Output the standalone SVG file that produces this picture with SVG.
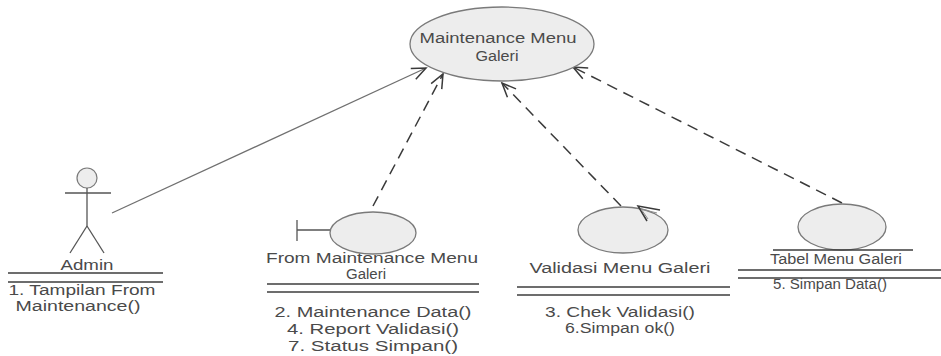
<svg xmlns="http://www.w3.org/2000/svg" width="941" height="356" viewBox="0 0 941 356">
<style>
.bg{fill:#ffffff}
.node ellipse{fill:#ededed;stroke:#7a7a7a;stroke-width:1.3}
.ln{stroke:#555555;stroke-width:1.3;fill:none}
.sep{stroke:#3c3c3c;stroke-width:1.4}
text{font-family:"Liberation Sans",Arial,sans-serif;font-size:14px;fill:#4a4a4a;text-anchor:middle}
.conn{stroke:#3a3a3a;stroke-width:1.5;fill:none}
.dash{stroke-dasharray:11 7}
.solid{stroke:#707070;stroke-width:1.3}
</style>
<defs>
<marker id="open" viewBox="-16 -8 18 16" markerWidth="18" markerHeight="16" refX="0" refY="0" orient="auto" markerUnits="userSpaceOnUse">
<path d="M-14,-6 L0,0 L-14,6" fill="none" stroke="#3a3a3a" stroke-width="1.5"/>
</marker>
</defs>
<rect class="bg" x="0" y="0" width="941" height="356"/>
<g id="connectors">
<line class="conn solid" x1="112" y1="213" x2="426" y2="68" marker-end="url(#open)"/>
<line class="conn dash" x1="373" y1="206" x2="443" y2="74" marker-end="url(#open)"/>
<line class="conn dash" x1="621" y1="206" x2="502" y2="83" marker-end="url(#open)"/>
<line class="conn dash" x1="842" y1="203" x2="573" y2="67" marker-end="url(#open)"/>
</g>
<g id="maintenance-menu-galeri" class="node">
<ellipse cx="502" cy="44" rx="92" ry="37"/>
<text x="498" y="43" textLength="157" lengthAdjust="spacingAndGlyphs">Maintenance Menu</text>
<text x="497" y="61" textLength="43" lengthAdjust="spacingAndGlyphs">Galeri</text>
</g>
<g id="admin" class="node">
<circle cx="87" cy="178" r="10" fill="#ededed" stroke="#7a7a7a" stroke-width="1.2"/>
<line class="ln" x1="87" y1="188" x2="87" y2="226"/>
<line class="ln" x1="65" y1="193" x2="111" y2="193"/>
<line class="ln" x1="87" y1="226" x2="70" y2="253"/>
<line class="ln" x1="87" y1="226" x2="104" y2="253"/>
<text x="87" y="270" textLength="53" lengthAdjust="spacingAndGlyphs">Admin</text>
<line class="sep" x1="8" y1="273" x2="163" y2="273"/>
<line class="sep" x1="8" y1="282" x2="163" y2="282"/>
<text x="82" y="295" textLength="147" lengthAdjust="spacingAndGlyphs">1. Tampilan From</text>
<text x="78" y="311" textLength="125" lengthAdjust="spacingAndGlyphs">Maintenance()</text>
</g>
<g id="from-maintenance-menu-galeri" class="node">
<line class="ln" x1="297" y1="220" x2="297" y2="241"/>
<line class="ln" x1="297" y1="230" x2="330" y2="230"/>
<ellipse cx="373" cy="233" rx="43" ry="21"/>
<text x="372" y="263" textLength="212" lengthAdjust="spacingAndGlyphs">From Maintenance Menu</text>
<text x="366" y="279" textLength="40" lengthAdjust="spacingAndGlyphs">Galeri</text>
<line class="sep" x1="267" y1="284" x2="479" y2="284"/>
<line class="sep" x1="267" y1="292" x2="479" y2="292"/>
<text x="373" y="317" textLength="197" lengthAdjust="spacingAndGlyphs">2. Maintenance Data()</text>
<text x="373" y="334" textLength="172" lengthAdjust="spacingAndGlyphs">4. Report Validasi()</text>
<text x="373" y="351" textLength="170" lengthAdjust="spacingAndGlyphs">7. Status Simpan()</text>
</g>
<g id="validasi-menu-galeri" class="node">
<ellipse cx="623" cy="230" rx="45" ry="23"/>
<polyline class="conn" points="660,210 638,206 647,221"/>
<polyline class="conn" points="657,213 641,209 648,219" style="stroke:#8a8a8a;stroke-width:1"/>
<text x="620" y="273" textLength="181" lengthAdjust="spacingAndGlyphs">Validasi Menu Galeri</text>
<line class="sep" x1="517" y1="287" x2="730" y2="287"/>
<line class="sep" x1="517" y1="295" x2="730" y2="295"/>
<text x="620" y="317" textLength="150" lengthAdjust="spacingAndGlyphs">3. Chek Validasi()</text>
<text x="620" y="333" textLength="110" lengthAdjust="spacingAndGlyphs">6.Simpan ok()</text>
</g>
<g id="tabel-menu-galeri" class="node">
<ellipse cx="842" cy="227" rx="44" ry="23"/>
<line class="sep" x1="773" y1="250" x2="913" y2="250"/>
<text x="836" y="264" textLength="132" lengthAdjust="spacingAndGlyphs">Tabel Menu Galeri</text>
<line class="sep" x1="738" y1="270" x2="941" y2="270"/>
<line class="sep" x1="738" y1="278" x2="941" y2="278"/>
<text x="830" y="289" textLength="114" lengthAdjust="spacingAndGlyphs">5. Simpan Data()</text>
</g>
</svg>
